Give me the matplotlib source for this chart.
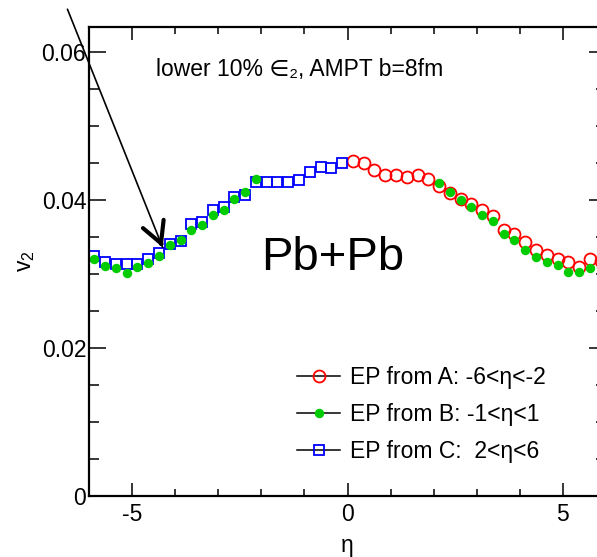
import matplotlib
matplotlib.use("Agg")
import matplotlib.pyplot as plt
from matplotlib.lines import Line2D
from matplotlib.ticker import MultipleLocator

plt.rcParams['font.family'] = ['Liberation Sans', 'DejaVu Sans']
plt.rcParams['mathtext.fontset'] = 'custom'
plt.rcParams['mathtext.rm'] = 'Liberation Sans'
plt.rcParams['mathtext.it'] = 'Liberation Sans'

# EP from A (red open circles), eta > 0
eta_a = [0.125, 0.375, 0.625, 0.875, 1.125, 1.375, 1.625, 1.875, 2.125, 2.375, 2.625, 2.875,
         3.125, 3.375, 3.625, 3.875, 4.125, 4.375, 4.625, 4.875, 5.125, 5.375, 5.625, 5.875]
v2_a = [0.0453, 0.0450, 0.0441, 0.0434, 0.0434, 0.0431, 0.0434, 0.0429, 0.0419, 0.0410, 0.0402, 0.0395,
        0.0386, 0.0378, 0.0359, 0.0354, 0.0344, 0.0332, 0.0326, 0.0321, 0.0317, 0.0310, 0.0320, 0.0318]

# EP from B (green dots), |eta| > 2
eta_b = [-5.875, -5.625, -5.375, -5.125, -4.875, -4.625, -4.375, -4.125,
         -3.875, -3.625, -3.375, -3.125, -2.875, -2.625, -2.375, -2.125,
         2.125, 2.375, 2.625, 2.875, 3.125, 3.375, 3.625, 3.875,
         4.125, 4.375, 4.625, 4.875, 5.125, 5.375, 5.625, 5.875]
v2_b = [0.0320, 0.0311, 0.0308, 0.0302, 0.0309, 0.0315, 0.0324, 0.0339,
        0.0346, 0.0359, 0.0367, 0.0380, 0.0387, 0.0402, 0.0411, 0.0429,
        0.0423, 0.0411, 0.0400, 0.0390, 0.0380, 0.0372, 0.0354, 0.0346,
        0.0333, 0.0323, 0.0317, 0.0312, 0.0303, 0.0303, 0.0308, 0.0310]

# EP from C (blue open squares), eta < 0
eta_c = [-5.875, -5.625, -5.375, -5.125, -4.875, -4.625, -4.375, -4.125,
         -3.875, -3.625, -3.375, -3.125, -2.875, -2.625, -2.375, -2.125,
         -1.875, -1.625, -1.375, -1.125, -0.875, -0.625, -0.375, -0.125]
v2_c = [0.0324, 0.0317, 0.0313, 0.0313, 0.0313, 0.0321, 0.0328, 0.0341,
        0.0345, 0.0368, 0.0371, 0.0386, 0.0391, 0.0404, 0.0407, 0.0425,
        0.0425, 0.0425, 0.0425, 0.0427, 0.0438, 0.0445, 0.0444, 0.0450]

labels = ['EP from A: -6<η<-2', 'EP from B: -1<η<1', 'EP from C:  2<η<6']

red = '#ff0000'
green = '#00cc00'
blue = '#0000ff'
fs = 16.5

fig = plt.figure(figsize=(5.97, 5.57), dpi=100)
ax = fig.add_axes([89/597, 61/557, 517/597, 469/557])

ax.plot(eta_a, v2_a, 'o', ms=8.6, mfc='none', mec=red, mew=1.3, ls='none')
ax.plot(eta_c, v2_c, 's', ms=7.9, mfc='none', mec=blue, mew=1.3, ls='none')
ax.plot(eta_b, v2_b, 'o', ms=6.8, mfc=green, mec=green, mew=0, ls='none')

ax.set_xlim(-6, 6)
ax.set_ylim(0, 0.0634)

ax.xaxis.set_major_locator(MultipleLocator(5))
ax.xaxis.set_minor_locator(MultipleLocator(1))
ax.yaxis.set_major_locator(MultipleLocator(0.02))
ax.yaxis.set_minor_locator(MultipleLocator(0.005))
ax.set_xticks([-5, 0, 5], ['-5', '0', '5'])
ax.set_yticks([0, 0.02, 0.04, 0.06], ['0', '0.02', '0.04', '0.06'])

ax.tick_params(which='both', direction='in', top=True, right=True, labelsize=fs, width=1.1)
ax.tick_params(axis='x', which='major', length=9.5, pad=5)
ax.tick_params(axis='x', which='minor', length=5)
ax.tick_params(axis='y', which='major', length=12, pad=2)
ax.tick_params(axis='y', which='minor', length=7)
for s in ax.spines.values():
    s.set_linewidth(1.6)

ax.set_xlabel('η', fontsize=fs, labelpad=6)
ax.set_ylabel('v$_2$', fontsize=fs, labelpad=3)

ax.text(-1.11, 0.0576, 'lower 10% ∈₂, AMPT b=8fm', fontsize=fs, ha='center', va='center')
ax.text(-0.35, 0.0322, 'Pb+Pb', fontsize=34, ha='center', va='center')

# arrow: thin shaft plus thick open head
tip = (-4.29, 0.0336)
start = (-6.5, 0.0658)
ax.annotate('', xy=tip, xytext=start, annotation_clip=False,
            arrowprops=dict(arrowstyle='-', lw=1.2, color='black', shrinkA=0, shrinkB=0))
near = (tip[0] + 0.02 * (start[0] - tip[0]), tip[1] + 0.02 * (start[1] - tip[1]))
ax.annotate('', xy=tip, xytext=near, annotation_clip=False,
            arrowprops=dict(arrowstyle='->,head_length=0.75,head_width=0.4', mutation_scale=20,
                            lw=3, color='black', shrinkA=0, shrinkB=0))

handles = [
    Line2D([], [], color='black', lw=1.1, marker='o', ms=8.6, mfc='none', mec=red, mew=1.3),
    Line2D([], [], color='black', lw=1.1, marker='o', ms=6.8, mfc=green, mec=green, mew=0),
    Line2D([], [], color='black', lw=1.1, marker='s', ms=7.9, mfc='none', mec=blue, mew=1.3),
]
ax.legend(handles, labels, loc='upper left', bbox_to_anchor=(0.402, 0.277), frameon=False,
          fontsize=fs, handlelength=1.9, handletextpad=0.4, labelspacing=0.6,
          borderpad=0, borderaxespad=0)

fig.savefig('out.png', dpi=100)
